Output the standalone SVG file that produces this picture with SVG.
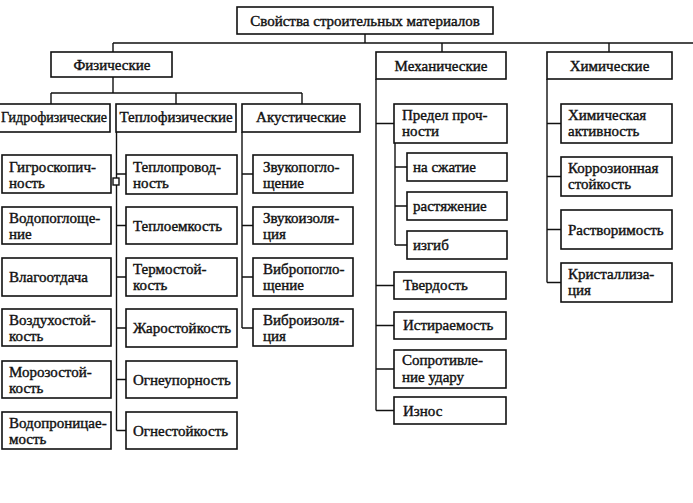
<svg xmlns="http://www.w3.org/2000/svg" width="693" height="503" viewBox="0 0 693 503">
<style>
.b{fill:#fff;stroke:#111;stroke-width:1.6}
.t{font-family:"Liberation Serif","Times New Roman",serif;font-size:15px;fill:#111;stroke:#111;stroke-width:0.4}
.c{text-anchor:middle}
.l{fill:none;stroke:#111;stroke-width:1.4}
</style>
<rect width="693" height="503" fill="#fff"/>
<g id="connectors" class="l">
<path d="M365 34V43M113 43H693M113 43V52M442 43V52M609 43V52"/>
<path d="M113 77V93M51 93H302M51 93V104M176 93V104M302 93V104"/>
<path d="M116.5 132V430.5M116.5 174H126M116.5 225.5H126M116.5 277H126M116.5 328H126M116.5 379.5H126M116.5 430.5H126"/>
<path d="M242 132V328M242 174H253M242 225.5H253M242 277H253M242 328H253"/>
<path d="M376 79V410.5M376 123.5H394M376 285.5H394M376 325.5H394M376 369H394M376 410.5H394"/>
<path d="M395 143V245M395 167H407M395 206H407M395 245H407"/>
<path d="M547 79V282.5M547 123.5H561M547 176.5H561M547 229.5H561M547 282.5H561"/>
<rect x="113" y="178" width="6" height="7" fill="#fff"/>
</g>
<g id="root"><rect class="b" x="237" y="7" width="256" height="27"/><text class="t c" x="365" y="26">Свойства строительных материалов</text></g>
<g id="phys"><rect class="b" x="51" y="52" width="121" height="25"/><text class="t c" x="112" y="70">Физические</text></g>
<g id="mech"><rect class="b" x="376" y="52" width="130" height="27"/><text class="t c" x="441" y="71">Механические</text></g>
<g id="chem"><rect class="b" x="547" y="52" width="125" height="27"/><text class="t c" x="609.5" y="71">Химические</text></g>
<g id="hydro"><rect class="b" x="-10" y="104" width="120" height="28"/><text class="t" x="1" y="122" textLength="106" lengthAdjust="spacingAndGlyphs">Гидрофизические</text></g>
<g id="teplo"><rect class="b" x="116" y="104" width="120" height="28"/><text class="t c" x="176" y="122">Теплофизические</text></g>
<g id="akust"><rect class="b" x="242" y="104" width="118" height="28"/><text class="t c" x="301" y="122">Акустические</text></g>
<g id="h1"><rect class="b" x="2" y="155" width="109" height="38"/><text class="t" x="9" y="172">Гигроскопич-</text><text class="t" x="9" y="188">ность</text></g>
<g id="h2"><rect class="b" x="2" y="207" width="109" height="37"/><text class="t" x="9" y="223">Водопоглоще-</text><text class="t" x="9" y="239">ние</text></g>
<g id="h3"><rect class="b" x="2" y="258" width="109" height="38"/><text class="t" x="9" y="282">Влагоотдача</text></g>
<g id="h4"><rect class="b" x="2" y="309" width="109" height="37"/><text class="t" x="9" y="325">Воздухостой-</text><text class="t" x="9" y="341">кость</text></g>
<g id="h5"><rect class="b" x="2" y="361" width="109" height="37"/><text class="t" x="9" y="377">Морозостой-</text><text class="t" x="9" y="393">кость</text></g>
<g id="h6"><rect class="b" x="2" y="412" width="109" height="37"/><text class="t" x="9" y="428">Водопроницае-</text><text class="t" x="9" y="444">мость</text></g>
<g id="t1"><rect class="b" x="126" y="155" width="111" height="39"/><text class="t" x="133" y="172">Теплопровод-</text><text class="t" x="133" y="188">ность</text></g>
<g id="t2"><rect class="b" x="126" y="207" width="111" height="37"/><text class="t" x="133" y="231">Теплоемкость</text></g>
<g id="t3"><rect class="b" x="126" y="258" width="111" height="38"/><text class="t" x="133" y="274">Термостой-</text><text class="t" x="133" y="290">кость</text></g>
<g id="t4"><rect class="b" x="126" y="309" width="111" height="38"/><text class="t" x="133" y="333">Жаростойкость</text></g>
<g id="t5"><rect class="b" x="126" y="361" width="111" height="37"/><text class="t" x="133" y="385">Огнеупорность</text></g>
<g id="t6"><rect class="b" x="126" y="412" width="111" height="37"/><text class="t" x="133" y="436">Огнестойкость</text></g>
<g id="a1"><rect class="b" x="253" y="155" width="100" height="38"/><text class="t" x="263" y="172">Звукопогло-</text><text class="t" x="263" y="188">щение</text></g>
<g id="a2"><rect class="b" x="253" y="207" width="100" height="37"/><text class="t" x="263" y="223">Звукоизоля-</text><text class="t" x="263" y="239">ция</text></g>
<g id="a3"><rect class="b" x="253" y="258" width="100" height="38"/><text class="t" x="263" y="274">Вибропогло-</text><text class="t" x="263" y="290">щение</text></g>
<g id="a4"><rect class="b" x="253" y="309" width="100" height="37"/><text class="t" x="263" y="325">Виброизоля-</text><text class="t" x="263" y="341">ция</text></g>
<g id="m1"><rect class="b" x="394" y="104" width="113" height="39"/><text class="t" x="402" y="120">Предел проч-</text><text class="t" x="402" y="136">ности</text></g>
<g id="m1a"><rect class="b" x="407" y="153" width="100" height="28"/><text class="t" x="413" y="172">на сжатие</text></g>
<g id="m1b"><rect class="b" x="407" y="192" width="100" height="28"/><text class="t" x="413" y="211">растяжение</text></g>
<g id="m1c"><rect class="b" x="407" y="231" width="100" height="28"/><text class="t" x="413" y="250">изгиб</text></g>
<g id="m2"><rect class="b" x="394" y="272" width="112" height="27"/><text class="t" x="403" y="290">Твердость</text></g>
<g id="m3"><rect class="b" x="394" y="312" width="112" height="27"/><text class="t" x="403" y="330">Истираемость</text></g>
<g id="m4"><rect class="b" x="394" y="350" width="112" height="38"/><text class="t" x="402" y="365">Сопротивле-</text><text class="t" x="402" y="382">ние удару</text></g>
<g id="m5"><rect class="b" x="394" y="397" width="112" height="27"/><text class="t" x="403" y="416">Износ</text></g>
<g id="c1"><rect class="b" x="561" y="104" width="111" height="39"/><text class="t" x="568" y="120">Химическая</text><text class="t" x="568" y="136">активность</text></g>
<g id="c2"><rect class="b" x="561" y="157" width="111" height="39"/><text class="t" x="568" y="173">Коррозионная</text><text class="t" x="568" y="189">стойкость</text></g>
<g id="c3"><rect class="b" x="561" y="210" width="111" height="39"/><text class="t" x="568" y="235">Растворимость</text></g>
<g id="c4"><rect class="b" x="561" y="263" width="111" height="39"/><text class="t" x="568" y="279">Кристаллиза-</text><text class="t" x="568" y="295">ция</text></g>
</svg>
